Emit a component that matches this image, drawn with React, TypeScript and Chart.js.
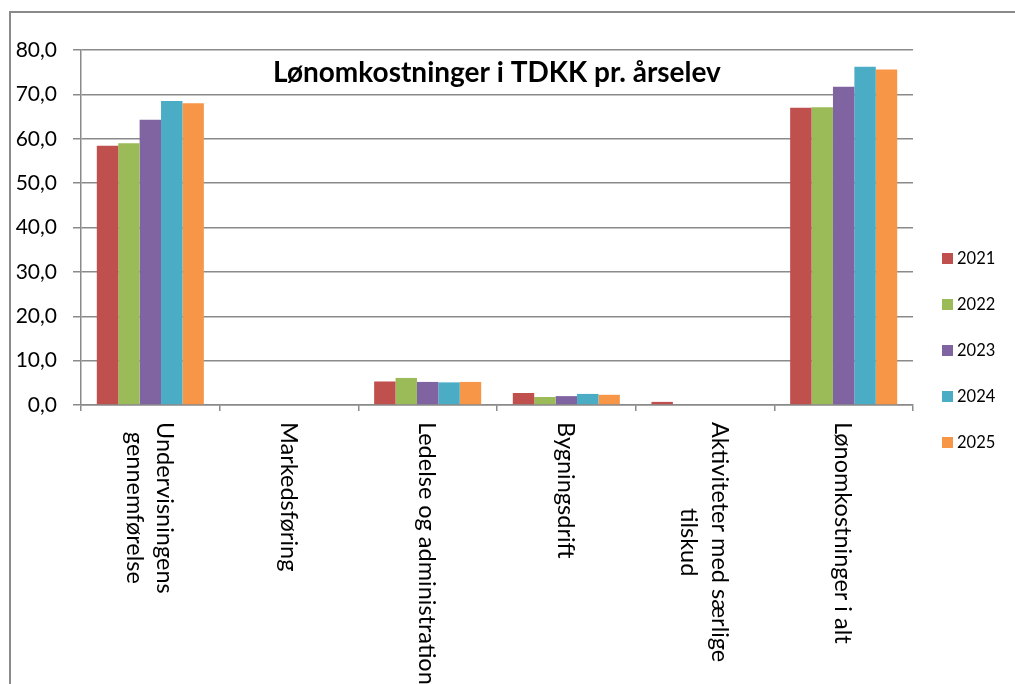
import React, { useEffect, useRef } from "react";
import { Chart, registerables } from "chart.js";

Chart.register(...registerables);

// ---- Data ----
const categories: string[][] = [
  ["Undervisningens", "gennemførelse"],
  ["Markedsføring"],
  ["Ledelse og administration"],
  ["Bygningsdrift"],
  ["Aktiviteter med særlige", "tilskud"],
  ["Lønomkostninger i alt"],
];
const years = ["2021", "2022", "2023", "2024", "2025"];
const values2021 = [58.4, 0, 5.3, 2.7, 0.7, 67.0];
const values2022 = [59.0, 0, 6.1, 1.8, 0, 67.1];
const values2023 = [64.3, 0, 5.2, 2.0, 0, 71.7];
const values2024 = [68.5, 0, 5.1, 2.5, 0, 76.2];
const values2025 = [68.0, 0, 5.2, 2.3, 0, 75.6];
const seriesValues = [values2021, values2022, values2023, values2024, values2025];
const seriesColors = ["#C0504D", "#9BBB59", "#8064A2", "#4BACC6", "#F79646"];
const yMin = 0;
const yMax = 80;
const yStep = 10;
const chartTitle = "Lønomkostninger i TDKK pr. årselev";

const GRID = "#8a8a8a";

const overlayPlugin = {
  id: "overlay",
  afterDraw(chart: any) {
    const ctx = chart.ctx;
    const area = chart.chartArea;
    const xs = chart.scales.x;

    // Title inside plot area
    ctx.save();
    ctx.fillStyle = "#000";
    ctx.font = "bold 28px Lato";
    ctx.textAlign = "center";
    ctx.textBaseline = "alphabetic";
    ctx.fillText(chartTitle, (area.left + area.right) / 2, area.top + 32);
    ctx.restore();

    // Category labels rotated clockwise (reading top to bottom)
    const fs = 23.5;
    const lineH = 30.6;
    const capOff = fs * 0.36;
    ctx.save();
    ctx.fillStyle = "#000";
    ctx.font = `${fs}px Lato`;
    ctx.textAlign = "center";
    ctx.textBaseline = "alphabetic";
    const labels = chart.data.labels as string[][];
    labels.forEach((lines, i) => {
      const cx = xs.getPixelForValue(i);
      const maxW = Math.max(...lines.map((l) => ctx.measureText(l).width));
      const n = lines.length;
      lines.forEach((line, j) => {
        ctx.save();
        ctx.translate(cx, area.bottom + 17);
        ctx.rotate(Math.PI / 2);
        ctx.fillText(line, maxW / 2, (j - (n - 1) / 2) * lineH + capOff);
        ctx.restore();
      });
    });
    ctx.restore();

    // Legend on the right
    ctx.save();
    ctx.font = "16.5px Lato";
    ctx.textAlign = "left";
    ctx.textBaseline = "middle";
    chart.data.datasets.forEach((ds: any, i: number) => {
      const cy = 258.5 + i * 46;
      ctx.fillStyle = ds.backgroundColor;
      ctx.fillRect(area.right + 29, cy - 5.5, 11, 11);
      ctx.fillStyle = "#000";
      ctx.fillText(ds.label, area.right + 44, cy + 0.5);
    });
    ctx.restore();
  },
};

export default function App() {
  const ref = useRef<HTMLCanvasElement>(null);

  useEffect(() => {
    if (!ref.current) return;
    const chart = new Chart(ref.current, {
      type: "bar",
      data: {
        labels: categories,
        datasets: years.map((y, i) => ({
          label: y,
          data: seriesValues[i],
          backgroundColor: seriesColors[i],
          borderWidth: 0,
          categoryPercentage: 0.772,
          barPercentage: 1,
        })),
      },
      options: {
        responsive: false,
        animation: false,
        devicePixelRatio: 1,
        layout: { padding: { left: 0, right: 102, top: 50, bottom: 0 } },
        plugins: {
          legend: { display: false },
          title: { display: false },
          tooltip: { enabled: false },
        },
        scales: {
          x: {
            offset: true,
            grid: {
              display: true,
              drawOnChartArea: false,
              drawTicks: true,
              tickLength: 6,
              color: GRID,
              lineWidth: 1.5,
              offset: true,
            },
            border: { display: true, color: GRID, width: 1.5 },
            ticks: { display: false },
            afterFit: (s: any) => {
              s.height = 684 - 405;
            },
          },
          y: {
            min: yMin,
            max: yMax,
            ticks: {
              stepSize: yStep,
              color: "#000",
              font: { family: "Lato", size: 21 },
              padding: 16,
              callback: (v: any) => Number(v).toFixed(1).replace(".", ","),
            },
            grid: {
              color: GRID,
              lineWidth: 1.5,
              drawTicks: true,
              tickLength: 8,
            },
            border: { display: true, color: GRID, width: 1.5 },
            afterFit: (s: any) => {
              s.width = 81;
            },
          },
        },
      },
      plugins: [overlayPlugin],
    });
    return () => chart.destroy();
  }, []);

  return (
    <div
      style={{
        position: "fixed",
        left: 0,
        top: 0,
        width: 1015,
        height: 684,
        overflow: "hidden",
        background: "#fff",
      }}
    >
      <canvas ref={ref} width={1015} height={684} style={{ display: "block", width: 1015, height: 684 }} />
      <div
        style={{
          position: "absolute",
          left: 9,
          top: 11,
          width: 1100,
          height: 800,
          borderLeft: "2px solid #8a8a8a",
          borderTop: "2px solid #8a8a8a",
          pointerEvents: "none",
        }}
      />
    </div>
  );
}
